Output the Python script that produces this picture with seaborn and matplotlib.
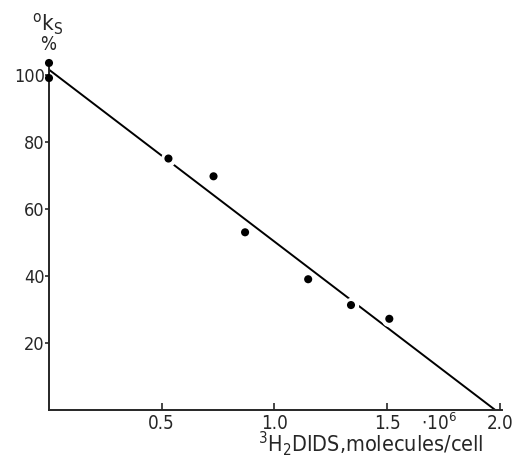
import matplotlib
matplotlib.use('Agg')
import matplotlib.pyplot as plt
import seaborn as sns

# data
dids = [0.0, 0.0, 0.53, 0.73, 0.87, 1.15, 1.34, 1.51]      # 10^6 molecules/cell
oks = [103.5, 99.0, 75.0, 69.7, 53.0, 39.0, 31.3, 27.2]    # % of control
fit_x = [0.0, 1.98]
fit_y = [101.5, 0.0]
xticks = [0.5, 1.0, 1.5, 2.0]
yticks = [20, 40, 60, 80, 100]

sns.set_style('ticks')
plt.rcParams['font.family'] = ['DejaVu Sans']
plt.rcParams['font.stretch'] = 'condensed'
plt.rcParams['mathtext.fontset'] = 'custom'
plt.rcParams['mathtext.rm'] = 'DejaVu Sans:stretch=condensed'
plt.rcParams['mathtext.it'] = 'DejaVu Sans:stretch=condensed'
plt.rcParams['mathtext.default'] = 'rm'

fig = plt.figure(figsize=(5.17, 4.58), dpi=100)
ax = fig.add_axes([49 / 517, 48 / 458, 453 / 517, 342 / 458])

sns.lineplot(x=fit_x, y=fit_y, color='black', lw=1.4, ax=ax, zorder=2)
# white halo round the points, breaking the line like the hand drawing
inner = [i for i, v in enumerate(dids) if v > 0]
ax.plot([dids[i] for i in inner], [oks[i] for i in inner], 'o', ms=10,
        color='white', zorder=2.2, clip_on=False)
sns.scatterplot(x=dids, y=oks, color='black', s=34, edgecolor='none',
                ax=ax, zorder=4, clip_on=False)

ax.set_xlim(0, 2.01)
ax.set_ylim(0, 102)
ax.set_xticks(xticks)
ax.set_xticklabels(['0.5', '1.0', '1.5', '2.0'])
ax.set_yticks(yticks)
ax.tick_params(axis='x', direction='in', length=5, width=1.2, pad=3, labelsize=13.5)
ax.tick_params(axis='y', direction='out', length=3, width=1.2, pad=0, labelsize=13)
for s in ['top', 'right']:
    ax.spines[s].set_visible(False)
for s in ['left', 'bottom']:
    ax.spines[s].set_linewidth(1.4)
    ax.spines[s].set_zorder(3)

ax.annotate(r'$\cdot10^{6}$', xy=(1.73, 0), xycoords=('data', 'axes fraction'),
            xytext=(0, -2), textcoords='offset points', ha='center', va='top',
            fontsize=13.5)
ax.annotate(r'$^{3}$H$_{2}$DIDS,molecules/cell', xy=(1.93, 0),
            xycoords=('data', 'axes fraction'), xytext=(0, -13.5),
            textcoords='offset points', ha='right', va='top', fontsize=15.5)

fig.text(48 / 517, 1 - 24 / 458, r'$^{o}$k$_{S}$', ha='center', va='center', fontsize=16)
fig.text(48 / 517, 1 - 45 / 458, '%', ha='center', va='center', fontsize=13.5)

fig.savefig('out.png', dpi=100)
